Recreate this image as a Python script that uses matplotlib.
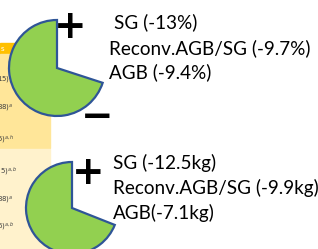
import matplotlib
matplotlib.use("Agg")
import matplotlib.pyplot as plt
from matplotlib.patches import Rectangle

# chart data
pie_shares_top = [70, 30]
pie_shares_bottom = [69, 31]
labels_top = ["SG (-13%)", "Reconv.AGB/SG (-9.7%)", "AGB (-9.4%)"]
labels_bottom = ["SG (-12.5kg)", "Reconv.AGB/SG (-9.9kg)", "AGB(-7.1kg)"]
notes_upper = ["15)$^{a}$", "88)$^{a}$", "5)$^{a,h}$"]
notes_lower = ["(15)$^{a,b}$", "88)$^{a}$", "6)$^{a,b}$"]

W, H = 318, 249
GREEN = "#92D050"
BLUE = "#2F5597"
FONT = ["Lato", "DejaVu Sans"]


def up(y):
    """Convert a top-down pixel row to the axis's bottom-up scale."""
    return H - y


fig = plt.figure(figsize=(W / 100, H / 100), dpi=100)
ax = fig.add_axes([0, 0, 1, 1])

# cropped table strip on the left
ax.add_patch(Rectangle((0, up(54)), 50, 11, color="#FFC000", zorder=1))
ax.add_patch(Rectangle((0, up(148)), 50, 94, color="#FFE699", zorder=1))
ax.add_patch(Rectangle((0, up(H)), 50, H - 149, color="#FFF2CC", zorder=1))
ax.text(0.5, up(48.5), "s", fontsize=5, color="white", va="center", zorder=2)
for note, x, y in zip(notes_upper, [13, 13, 15], [80, 108, 140]):
    ax.text(x, up(y), note, fontsize=5, color="#404040", ha="right", va="center", zorder=2)
for note, x, y in zip(notes_lower, [18, 13, 15], [172, 200, 227]):
    ax.text(x, up(y), note, fontsize=5, color="#404040", ha="right", va="center", zorder=2)

# pac-man shaped pies
for shares, center, radius in [
    (pie_shares_top, (57, up(68)), 48),
    (pie_shares_bottom, (72, up(208)), 46),
]:
    wedges, _ = ax.pie(
        shares,
        colors=[GREEN, "none"],
        startangle=90,
        counterclock=True,
        radius=radius,
        center=center,
        frame=True,
        wedgeprops={"edgecolor": BLUE, "linewidth": 1.6, "zorder": 3},
    )
    wedges[1].set_visible(False)

# signs
sign_style = {"fontsize": 28, "fontweight": "bold", "ha": "center", "va": "center", "zorder": 4}
ax.text(70, up(27), "+", **sign_style)
ax.text(97, up(117), "\u2212", **sign_style)
ax.text(88, up(173), "+", **sign_style)

# labels
for label, x, y in zip(labels_top, [114, 109, 109], [22, 48, 72]):
    ax.text(x, up(y), label, fontsize=13.6, family=FONT, va="center", zorder=4)
for label, y in zip(labels_bottom, [163, 188, 213]):
    ax.text(113, up(y), label, fontsize=13.6, family=FONT, va="center", zorder=4)

ax.set_xlim(0, W)
ax.set_ylim(0, H)
ax.set_aspect("equal")
ax.axis("off")
fig.savefig("out.png", dpi=100, facecolor="white")
